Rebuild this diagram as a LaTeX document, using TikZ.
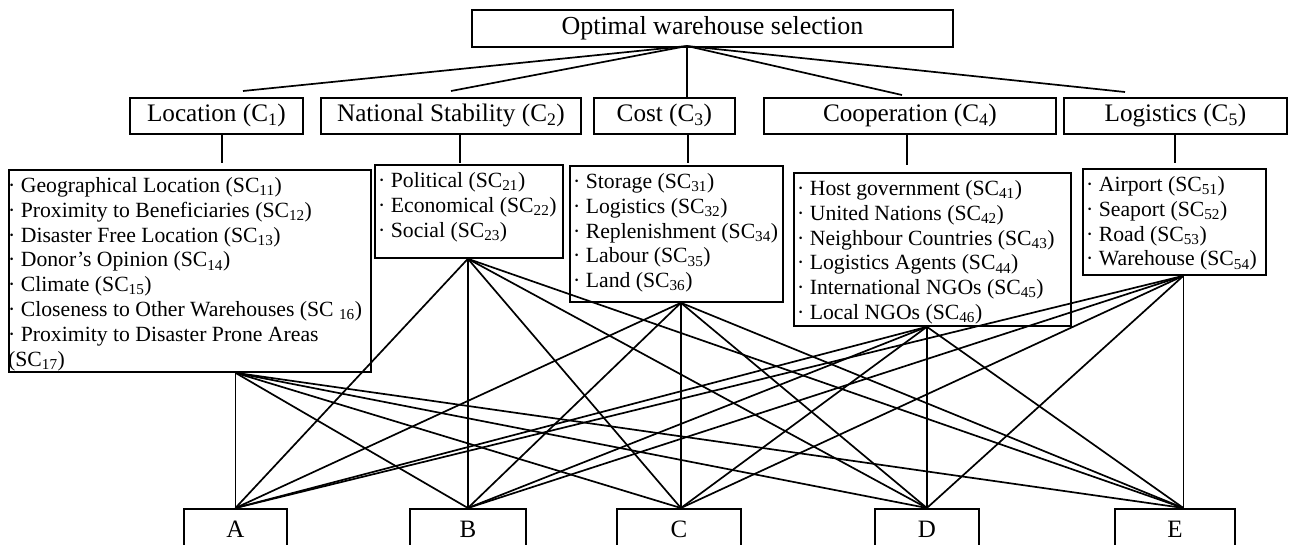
\documentclass[tikz,border=0pt]{standalone}
\usepackage{fontspec}
\setmainfont{Liberation Serif}
\begin{document}
\begin{tikzpicture}[x=1pt,y=-1pt,
  frame/.style={draw, line width=1.8pt, inner sep=0pt, anchor=north west},
  link/.style={line width=1.7pt},
  head/.style={font=\fontsize{25.2pt}{30pt}\selectfont},
  alt/.style={frame, minimum height=40pt, font=\fontsize{25pt}{30pt}\selectfont},
  items/.style={inner sep=0pt, anchor=north west, align=left,
                font=\fontsize{21.7pt}{24.9pt}\selectfont},
]
\useasboundingbox (0,0) rectangle (1295,544);
\clip (0,0) rectangle (1295,544);
\fill[white] (0,0) rectangle (1295,544);

% goal
\node[frame, minimum width=481pt, minimum height=37pt,
      font=\fontsize{26pt}{30pt}\selectfont] (goal) at (471,9) {Optimal warehouse selection};

% criteria
\node[frame, head, minimum width=173pt, minimum height=36pt] (c1) at (129,97) {Location (C\textsubscript{1})};
\node[frame, head, minimum width=260pt, minimum height=36pt] (c2) at (320,97) {National Stability (C\textsubscript{2})};
\node[frame, head, minimum width=141pt, minimum height=36pt] (c3) at (593,97) {Cost (C\textsubscript{3})};
\node[frame, head, minimum width=292pt, minimum height=36pt] (c4) at (763,97) {Cooperation (C\textsubscript{4})};
\node[frame, head, minimum width=223pt, minimum height=36pt] (c5) at (1063,97) {Logistics (C\textsubscript{5})};

% sub-criteria boxes
\node[frame, minimum width=362pt, minimum height=202pt] (s1) at (8,169) {};
\node[frame, minimum width=188pt, minimum height=93pt]  (s2) at (374,164) {};
\node[frame, minimum width=213pt, minimum height=136pt] (s3) at (569,165) {};
\node[frame, minimum width=277pt, minimum height=153pt] (s4) at (793,172) {};
\node[frame, minimum width=183pt, minimum height=106pt] (s5) at (1082,168) {};

\node[items] (s1t) at ([yshift=-8pt]s1.north west) {%
· Geographical Location (SC\textsubscript{11})\\
· Proximity to Beneficiaries (SC\textsubscript{12})\\
· Disaster Free Location (SC\textsubscript{13})\\
· Donor’s Opinion (SC\textsubscript{14})\\
· Climate (SC\textsubscript{15})\\
· Closeness to Other Warehouses (SC \textsubscript{16})\\
· Proximity to Disaster Prone Areas\\
(SC\textsubscript{17})};
\node[items] (s2t) at ([xshift=4pt,yshift=-8pt]s2.north west) {%
· Political (SC\textsubscript{21})\\
· Economical (SC\textsubscript{22})\\
· Social (SC\textsubscript{23})};
\node[items] (s3t) at ([xshift=4pt,yshift=-8pt]s3.north west) {%
· Storage (SC\textsubscript{31})\\
· Logistics (SC\textsubscript{32})\\
· Replenishment (SC\textsubscript{34})\\
· Labour (SC\textsubscript{35})\\
· Land (SC\textsubscript{36})};
\node[items] (s4t) at ([xshift=4pt,yshift=-8pt]s4.north west) {%
· Host government (SC\textsubscript{41})\\
· United Nations (SC\textsubscript{42})\\
· Neighbour Countries (SC\textsubscript{43})\\
· Logistics Agents (SC\textsubscript{44})\\
· International NGOs (SC\textsubscript{45})\\
· Local NGOs (SC\textsubscript{46})};
\node[items] (s5t) at ([xshift=4pt,yshift=-8pt]s5.north west) {%
· Airport (SC\textsubscript{51})\\
· Seaport (SC\textsubscript{52})\\
· Road (SC\textsubscript{53})\\
· Warehouse (SC\textsubscript{54})};

% alternatives
\node[alt, minimum width=103pt] (A) at (183,508) {A};
\node[alt, minimum width=116pt] (B) at (409,508) {B};
\node[alt, minimum width=124pt] (C) at (616,508) {C};
\node[alt, minimum width=104pt] (D) at (874,508) {D};
\node[alt, minimum width=120pt] (E) at (1114,508) {E};

% goal to criteria
\coordinate (hub) at (687,46);
\coordinate (t1) at (243,91);
\coordinate (t2) at (451,91);
\coordinate (t4) at (902,95);
\coordinate (t5) at (1125,92);
\draw[link] (hub) -- (t1);
\draw[link] (hub) -- (t2);
\draw[link] (hub) -- (c3.north -| hub);
\draw[link] (hub) -- (t4);
\draw[link] (hub) -- (t5);

% criteria to sub-criteria
\coordinate (d1) at (222,163);
\coordinate (d2) at (460,163);
\coordinate (d3) at (688,163);
\coordinate (d4) at (907,165);
\coordinate (d5) at (1175,163);
\foreach \i in {1,...,5} \draw[link] (c\i.south -| d\i) -- (d\i);

% sub-criteria to alternatives
\coordinate (pA) at (A.north);
\coordinate (pB) at (B.north);
\coordinate (pC) at ([xshift=2pt]C.north);
\coordinate (pD) at (D.north);
\coordinate (pE) at ([xshift=8.5pt]E.north);
\coordinate (q1) at (pA |- s1.south);
\coordinate (q2) at (pB |- s2.south);
\coordinate (q3) at (pC |- s3.south);
\coordinate (q4) at (pD |- s4.south);
\coordinate (q5) at (pE |- s5.south);
\foreach \i in {1,...,5}
  \foreach \p in {A,B,C,D,E}
    \draw[link] (q\i) -- (p\p);
\end{tikzpicture}
\end{document}
